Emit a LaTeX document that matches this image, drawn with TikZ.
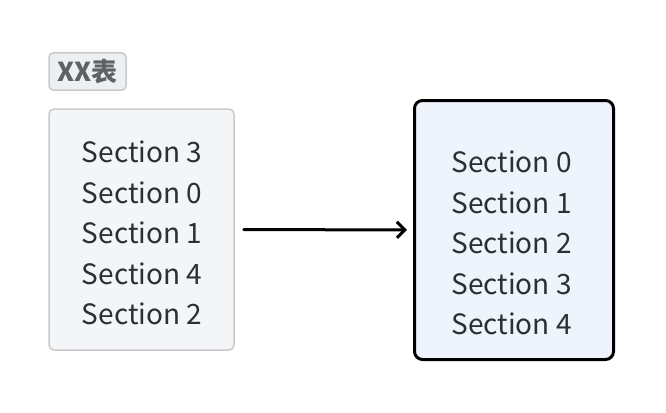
\documentclass[tikz,border=0pt]{standalone}
\usepackage{fontspec}
\setmainfont{Noto Sans CJK SC}
\usetikzlibrary{arrows.meta}
\definecolor{srcfill}{HTML}{F4F5F7}
\definecolor{srcline}{HTML}{C8CACD}
\definecolor{tagfill}{HTML}{EEEFF1}
\definecolor{tagtext}{HTML}{5E6166}
\definecolor{dstfill}{HTML}{EEF3FC}
\definecolor{txt}{HTML}{2B2F36}
\tikzset{
	sectlist/.style = {align = left, text = txt, font = \fontsize{28}{40.5}\selectfont},
	srcbox/.style = {draw = srcline, fill = srcfill, line width = 1.5pt, rounded corners = 5pt, minimum width = 185pt, minimum height = 241pt},
	dstbox/.style = {draw = black, fill = dstfill, line width = 3pt, rounded corners = 8pt, minimum width = 199pt, minimum height = 259pt},
	tagbox/.style = {draw = srcline, fill = tagfill, line width = 1.5pt, rounded corners = 4pt, minimum width = 77pt, minimum height = 37pt, text = tagtext, font = \fontsize{26}{26}\selectfont\bfseries}
}
\begin{document}
\begin{tikzpicture}[x = 1pt, y = -1pt]
	\useasboundingbox (0, 0) rectangle (666, 412);
	%Label
	\node[tagbox, inner sep = 0pt] (tag) at (87.5, 71.5) {XX表};
	%Unsorted
	\node[srcbox] (src) at (141.5, 229.5) {};
	\node[sectlist] (srctext) at (142, 233) {Section 3\\Section 0\\Section 1\\Section 4\\Section 2};
	%Sorted
	\node[dstbox] (dst) at (514, 230) {};
	\node[sectlist] (dsttext) at (511.5, 243) {Section 0\\Section 1\\Section 2\\Section 3\\Section 4};
	%Arrow
	\draw[-{Straight Barb[length = 8pt, width = 16pt]}, line width = 3pt, line cap = round, shorten < = 9pt, shorten > = 6pt] (src) -- (dst);
\end{tikzpicture}
\end{document}
